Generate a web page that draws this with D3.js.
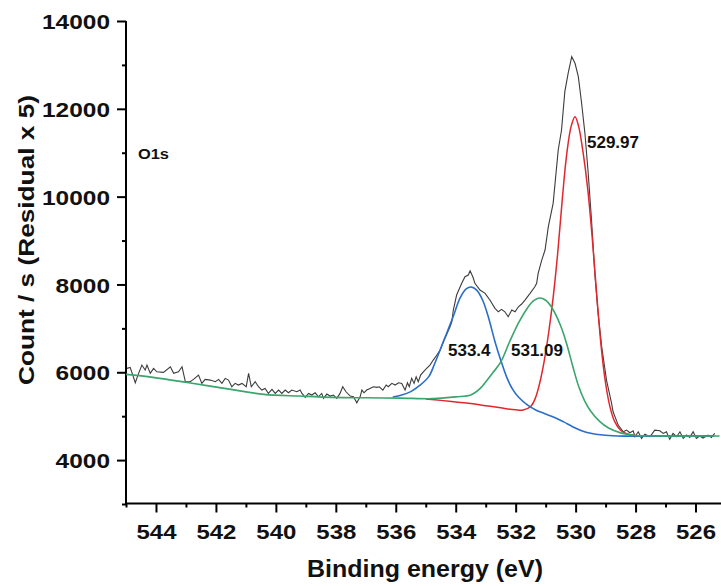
<!DOCTYPE html>
<html>
<head>
<meta charset="utf-8">
<script src="https://cdn.jsdelivr.net/npm/d3@7"></script>
<style>
  html, body { margin: 0; padding: 0; background: #fff; }
  svg { display: block; font-family: "Liberation Sans", Arial, sans-serif; }
</style>
</head>
<body>
<svg id="chart" width="721" height="586"></svg>
<script>
// ---- Data ----
const rawBE = [544.97,544.86,544.69,544.58,544.47,544.36,544.30,544.19,544.08,543.97,
  543.75,543.52,543.41,543.25,543.13,543.02,542.86,542.75,542.58,542.47,
  542.36,542.19,542.02,541.91,541.80,541.69,541.58,541.47,541.36,541.25,
  541.13,540.99,540.91,540.82,540.69,540.58,540.47,540.36,540.25,540.13,
  540.02,539.91,539.80,539.69,539.58,539.47,539.30,539.19,539.13,539.02,
  538.91,538.80,538.69,538.58,538.47,538.41,538.30,538.19,538.08,537.97,
  537.86,537.77,537.66,537.52,537.41,537.30,537.19,537.13,537.06,536.97,
  536.86,536.75,536.63,536.55,536.43,536.32,536.25,536.13,536.02,535.91,
  535.80,535.69,535.61,535.55,535.47,535.39,535.32,535.25,535.17,535.08,
  534.97,534.86,534.75,534.63,534.52,534.41,534.19,534.13,534.08,533.97,
  533.80,533.69,533.58,533.52,533.43,533.36,533.19,533.02,532.86,532.69,
  532.58,532.47,532.36,532.25,532.13,532.02,531.91,531.80,531.69,531.52,
  531.36,531.30,531.25,531.13,531.02,530.91,530.75,530.58,530.47,530.36,
  530.25,530.13,530.02,529.91,529.80,529.69,529.58,529.47,529.36,529.25,
  529.13,528.97,528.80,528.75,528.58,528.41,528.30,528.19,528.08,528.02,
  527.91,527.80,527.69,527.52,527.36,527.19,527.08,526.97,526.86,526.75,
  526.63,526.52,526.41,526.30,526.19,526.08,525.97,525.86,525.75,525.58,
  525.47,525.36];
const rawCounts = [6089,6112,5761,5975,6164,6050,6164,5975,6089,6011,
  5998,6125,5975,6011,6125,5784,5784,5838,5936,5747,
  5838,5822,5784,5838,5747,5861,5822,5670,5747,5708,
  5747,5670,5975,5670,5784,5670,5595,5633,5519,5611,
  5519,5595,5519,5595,5533,5595,5556,5595,5519,5428,
  5519,5481,5533,5442,5519,5406,5503,5458,5481,5406,
  5519,5670,5556,5458,5442,5305,5442,5595,5533,5595,
  5633,5670,5656,5670,5595,5709,5670,5747,5709,5761,
  5747,5595,5761,5670,5861,5747,5898,5784,5936,6011,
  6089,6164,6278,6392,6506,6695,7037,7150,7417,7759,
  8025,8176,8214,8312,8176,8025,7873,7797,7645,7456,
  7378,7433,7378,7264,7417,7378,7492,7554,7645,7797,
  7948,8025,8253,8556,8784,9315,9848,11062,11517,12390,
  12809,13187,13037,12732,12126,11442,10531,9467,8253,7342,
  6581,5822,5292,5100,4797,4645,4683,4622,4668,4531,
  4645,4494,4592,4531,4683,4668,4608,4645,4472,4608,
  4531,4645,4494,4570,4517,4645,4494,4547,4501,4570,
  4517,4608];

// Component 529.97 (red), drawn on background
const redBE = [535.0,534.5,534.0,533.5,533.0,532.5,532.0,531.75,531.5,531.35,531.2,531.05,530.9,530.75,530.6,530.45,530.3,530.15,530.02,529.9,529.75,529.6,529.45,529.3,529.15,529.0,528.85,528.7,528.5,528.3,528.0,527.5,525.4];
const redCounts = [5390,5360,5325,5290,5240,5190,5145,5140,5220,5400,5750,6250,6900,7700,8700,9900,10950,11600,11820,11600,11000,10200,9100,7800,6600,5750,5200,4880,4680,4600,4560,4550,4547];

// Component 531.09 (green), with full background
const greenBE = [545.0,544.1,542.9,541.5,540.4,539.2,538.1,537.0,535.85,534.75,534.0,533.5,533.2,533.0,532.75,532.5,532.2,531.9,531.6,531.4,531.2,531.0,530.8,530.5,530.3,530.1,529.9,529.7,529.5,529.2,528.9,528.5,528.0,527.5,525.2];
const greenCounts = [5952,5884,5761,5610,5497,5458,5428,5419,5412,5400,5440,5480,5620,5780,6000,6230,6700,7130,7470,7630,7690,7640,7480,7060,6650,6150,5680,5350,5120,4880,4730,4620,4560,4550,4547];

// Component 533.4 (blue)
const blueBE = [536.1,535.8,535.5,535.2,534.9,534.7,534.4,534.1,533.85,533.65,533.47,533.3,533.1,532.9,532.7,532.5,532.3,532.1,531.9,531.6,531.3,531.0,530.7,530.4,530.1,529.8,529.5,529.1,528.6,528.0,525.4];
const blueCounts = [5435,5480,5560,5700,5900,6200,6720,7240,7700,7900,7940,7870,7640,7230,6720,6280,5890,5610,5430,5250,5130,5050,4970,4870,4760,4670,4610,4570,4550,4545,4545];

const xMajorTicks = [544,542,540,538,536,534,532,530,528,526];
const xMinorTicks = [545,543,541,539,537,535,533,531,529,527,525];
const yMajorTicks = [4000,6000,8000,10000,12000,14000];
const yMinorTicks = [3000,5000,7000,9000,11000,13000];

const peakLabels = ["529.97","533.4","531.09"];
const panelLabel = "O1s";
const xTitle = "Binding energy (eV)";
const yTitle = "Count / s (Residual x 5)";

// ---- Drawing ----
const svg = d3.select("#chart");
const x = d3.scaleLinear().domain([545, 525.15]).range([126, 721]);
const y = d3.scaleLinear().domain([3000, 14000]).range([504, 21]);

const FONT = "bold";

// axes
const gx = svg.append("g").attr("transform", "translate(0,503.5)");
gx.call(d3.axisBottom(x).tickValues(xMinorTicks).tickSize(4).tickFormat(""));
const gx2 = svg.append("g").attr("transform", "translate(0,503.5)");
gx2.call(d3.axisBottom(x).tickValues(xMajorTicks).tickSize(9).tickPadding(12).tickFormat(d3.format("d")));

const gy = svg.append("g").attr("transform", "translate(126,0)");
gy.call(d3.axisLeft(y).tickValues(yMinorTicks).tickSize(4).tickFormat(""));
const gy2 = svg.append("g").attr("transform", "translate(126,0)");
gy2.call(d3.axisLeft(y).tickValues(yMajorTicks).tickSize(9).tickPadding(7).tickFormat(d3.format("d")));

[gx, gx2, gy, gy2].forEach(g => {
  g.select(".domain").attr("stroke", "#000").attr("stroke-width", 2);
  g.selectAll(".tick line").attr("stroke", "#000").attr("stroke-width", 2);
});
gx.select(".domain").attr("d", `M${x.range()[0]},0H${x.range()[1]}`);
gx2.select(".domain").remove();
gy.select(".domain").attr("d", `M0,${y.range()[0]}V${y.range()[1]}`);
gy2.select(".domain").remove();

gx2.selectAll(".tick text")
  .attr("font-size", 21).attr("font-weight", FONT).attr("fill", "#111")
  .attr("textLength", 40).attr("lengthAdjust", "spacingAndGlyphs");
gy2.selectAll(".tick text")
  .attr("font-size", 21).attr("font-weight", FONT).attr("fill", "#111")
  .attr("dy", "0.36em")
  .attr("textLength", d => String(d).length * 13.6).attr("lengthAdjust", "spacingAndGlyphs");

// lines
const lineRaw = d3.line().x(d => x(d[0])).y(d => y(d[1]));
const lineFit = d3.line().x(d => x(d[0])).y(d => y(d[1])).curve(d3.curveCatmullRom.alpha(0.5));

const plot = svg.append("g");
plot.append("path").datum(d3.zip(rawBE, rawCounts))
  .attr("d", lineRaw).attr("fill", "none").attr("stroke", "#3c3c3c").attr("stroke-width", 1.1);
plot.append("path").datum(d3.zip(redBE, redCounts))
  .attr("d", lineFit).attr("fill", "none").attr("stroke", "#e0272d").attr("stroke-width", 1.5);
plot.append("path").datum(d3.zip(blueBE, blueCounts))
  .attr("d", lineFit).attr("fill", "none").attr("stroke", "#2b6ec8").attr("stroke-width", 1.6);
plot.append("path").datum(d3.zip(greenBE, greenCounts))
  .attr("d", lineFit).attr("fill", "none").attr("stroke", "#3aa56c").attr("stroke-width", 1.6);

// text labels
const txt = svg.append("g").attr("font-weight", FONT).attr("fill", "#111");
txt.append("text").attr("x", 587).attr("y", 148).attr("font-size", 17).text(peakLabels[0]);
txt.append("text").attr("x", 448).attr("y", 356).attr("font-size", 17).text(peakLabels[1]);
txt.append("text").attr("x", 511).attr("y", 356).attr("font-size", 17).text(peakLabels[2]);
txt.append("text").attr("x", 138).attr("y", 159).attr("font-size", 14)
  .attr("textLength", 31).attr("lengthAdjust", "spacingAndGlyphs").text(panelLabel);

txt.append("text").attr("x", 425).attr("y", 577).attr("text-anchor", "middle")
  .attr("font-size", 23).attr("textLength", 236).attr("lengthAdjust", "spacingAndGlyphs").text(xTitle);
txt.append("text").attr("transform", "translate(34,240) rotate(-90)").attr("text-anchor", "middle")
  .attr("font-size", 22).attr("textLength", 290).attr("lengthAdjust", "spacingAndGlyphs").text(yTitle);
</script>
</body>
</html>
